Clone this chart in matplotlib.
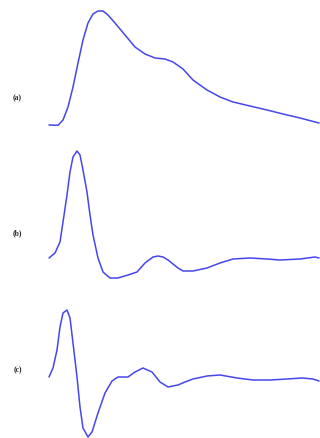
import matplotlib
matplotlib.use("Agg")
import matplotlib.pyplot as plt

# traces: time (arbitrary units) and amplitude
t_a = [0, 9, 14, 19, 24, 29, 34, 39, 44, 49, 54, 59, 66, 76, 86, 96, 106, 116,
       124, 134, 144, 158, 171, 184, 201, 218, 234, 251, 270]
y_a = [0, -0.3, 5, 18, 38, 62, 85, 102, 111, 114, 114, 110, 102, 90, 78, 71,
       67, 66, 63, 56, 45, 35, 28, 23, 19, 15, 11, 7, 2]

t_b = [0, 6, 11, 14, 18, 21, 24, 28, 31, 34, 38, 41, 44, 49, 54, 61, 69, 79,
       88, 96, 104, 109, 114, 119, 129, 134, 144, 158, 171, 184, 201, 218, 231,
       251, 266, 270]
y_b = [0, 5, 16, 36, 63, 86, 101, 107, 103, 88, 66, 43, 23, 0, -14, -20, -20,
       -17, -14, -5, 1, 2, 1, -2, -10, -13, -13, -10, -5, -1, 0, -1, -2, -1,
       1, 0]

t_c = [0, 4, 8, 11, 14, 18, 21, 24, 28, 31, 34, 39, 43, 49, 56, 63, 69, 79,
       86, 94, 103, 111, 119, 129, 136, 144, 158, 171, 188, 204, 221, 238, 253,
       264, 270]
y_c = [0, 9, 27, 50, 64, 67, 59, 34, 0, -30, -51, -60, -55, -36, -16, -4, 0, 0,
       5, 9, 5, -5, -10, -8, -5, -2, 1, 2, -1, -3, -3, -2, -1, -2, -4]

labels = ["(a)", "(b)", "(c)"]
traces = [(t_a, y_a), (t_b, y_b), (t_c, y_c)]
# panel rows (top, bottom) in pixels, baseline row of each trace, label row
rows = [(0, 146, 125, 98), (146, 292, 258, 233), (292, 438, 377, 370)]

W, H = 320, 438
fig = plt.figure(figsize=(W / 100, H / 100), dpi=100)
fig.patch.set_facecolor("white")

for (t, y), (top, bot, base, ylab), lab in zip(traces, rows, labels):
    ax = fig.add_axes([49 / W, (H - bot) / H, 271 / W, (bot - top) / H])
    ax.plot(t, y, color="#4646ee", lw=1.1, clip_on=False,
            solid_joinstyle="round", solid_capstyle="round")
    ax.set_xlim(0, 271)
    ax.set_ylim(base - bot, base - top)
    ax.axis("off")
    fig.text(17.5 / W, 1 - ylab / H, lab, ha="center", va="center",
             fontsize=5.5, fontweight="bold", family="Liberation Serif",
             color="#2a2a2a")

fig.savefig("out.png", dpi=100)
